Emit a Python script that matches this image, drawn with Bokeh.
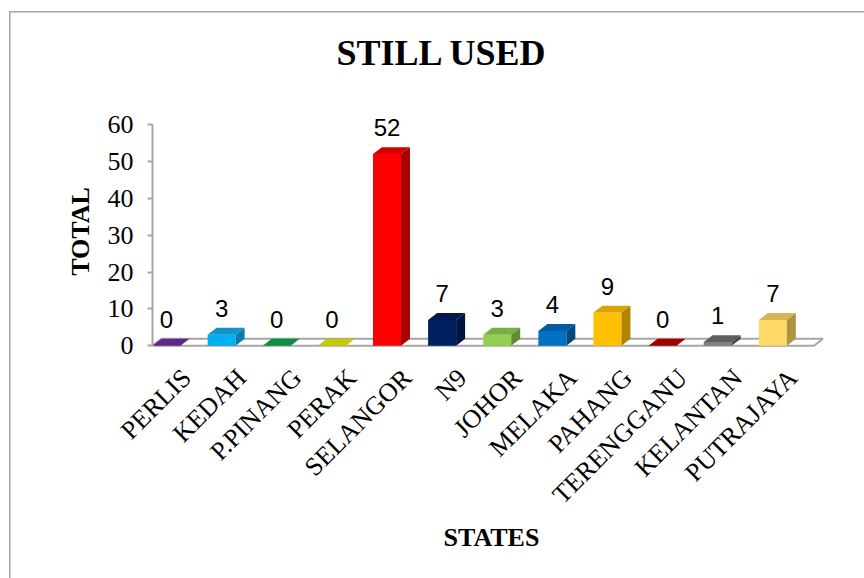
from bokeh.plotting import figure
from bokeh.models import ColumnDataSource, FixedTicker, LabelSet, Range1d
from bokeh.core.properties import value
from bokeh.embed import file_html
from bokeh.resources import INLINE

# Number of units still in use, per state
states = ["PERLIS", "KEDAH", "P.PINANG", "PERAK", "SELANGOR", "N9", "JOHOR",
          "MELAKA", "PAHANG", "TERENGGANU", "KELANTAN", "PUTRAJAYA"]
counts = [0, 3, 0, 0, 52, 7, 3, 4, 9, 0, 1, 7]
y_ticks = [0, 10, 20, 30, 40, 50, 60]

front_colors = ["#7030A0", "#00B0F0", "#00B050", "#FFFF00", "#FF0000", "#002060",
                "#92D050", "#0070C0", "#FFC000", "#C00000", "#7F7F7F", "#FFD966"]
top_colors = ["#5F2888", "#0E95CC", "#0A8F44", "#C8C800", "#D40000", "#001A50",
              "#78AE42", "#005CA0", "#D9A300", "#A00000", "#5E5E5E", "#D6B658"]
side_colors = ["#4C2070", "#0A7CAA", "#087538", "#A6A600", "#A80000", "#001440",
               "#5F8C34", "#004A80", "#B08400", "#800000", "#474747", "#AD9446"]

# 3D geometry in data units
bar_w = 0.508         # front face width
off = 0.62            # front-left corner sits this far left of the tick
dx, dy = 0.163, 1.88  # depth offset of the back faces
n = len(states)

p = figure(width=864, height=578, output_backend="svg", toolbar_location=None,
           x_range=Range1d(-off, n - off + 0.3), y_range=Range1d(-4, 66),
           min_border_left=152, min_border_right=34, min_border_top=100,
           min_border_bottom=218, title="STILL USED")
p.outline_line_color = None
p.grid.grid_line_color = None
p.background_fill_color = None
p.border_fill_color = None

# thin frame around the chart area
p.styles = {
    "background-color": "white",
    "background-image": "linear-gradient(#A6A6A6, #A6A6A6), linear-gradient(#A6A6A6, #A6A6A6)",
    "background-size": "1.5px 100%, 100% 1.5px",
    "background-position": "9px 11px, 9px 11px",
    "background-repeat": "no-repeat",
}

p.title.text_font = "Liberation Serif"
p.title.text_font_size = "36px"
p.title.text_font_style = "bold"
p.title.text_color = "black"
p.title.align = "left"
p.title.offset = 184
p.title.standoff = 60

# Floor slab
p.patch([-off, n - off, n - off + dx, -off + dx], [0, 0, dy, dy],
        fill_color="white", line_color="#A6A6A6", line_width=2)

# Bars: front, top and side faces
fx, fy, tx, ty, sx, sy = [], [], [], [], [], []
for i, v in enumerate(counts):
    x0 = i - off
    x1 = x0 + bar_w
    fx.append([x0, x1, x1, x0]); fy.append([0, 0, v, v])
    tx.append([x0, x1, x1 + dx, x0 + dx]); ty.append([v, v, v + dy, v + dy])
    sx.append([x1, x1 + dx, x1 + dx, x1]); sy.append([0, dy, v + dy, v])

p.patches(fx, fy, fill_color=front_colors, line_color=None)
p.patches(tx, ty, fill_color=top_colors, line_color=None)
p.patches(sx, sy, fill_color=side_colors, line_color=None)

# Value labels
lab_src = ColumnDataSource(dict(x=[i - off + bar_w / 2 for i in range(n)],
                                y=counts, text=[str(c) for c in counts]))
p.add_layout(LabelSet(x="x", y="y", text="text", source=lab_src, y_offset=18,
                      text_align="center", text_baseline="alphabetic",
                      text_font=value("Liberation Sans"), text_font_size=value("24px"),
                      text_color="black"))

# Y axis
yax = p.yaxis[0]
yax.ticker = FixedTicker(ticks=y_ticks)
yax.bounds = (0, 60)
yax.axis_line_color = "#A6A6A6"
yax.axis_line_width = 2
yax.major_tick_line_color = "#A6A6A6"
yax.major_tick_line_width = 2
yax.major_tick_out = 5
yax.major_tick_in = 0
yax.minor_tick_line_color = None
yax.major_label_text_font = "Liberation Serif"
yax.major_label_text_font_size = "26px"
yax.major_label_text_color = "black"
yax.major_label_standoff = 14
yax.axis_label = "TOTAL"
yax.axis_label_text_font = "Liberation Serif"
yax.axis_label_text_font_size = "26px"
yax.axis_label_text_font_style = "bold"
yax.axis_label_text_color = "black"
yax.axis_label_standoff = 10

# X axis (state names)
xax = p.xaxis[0]
xax.ticker = FixedTicker(ticks=list(range(n)))
xax.major_label_overrides = {i: s for i, s in enumerate(states)}
xax.axis_line_color = None
xax.major_tick_line_color = None
xax.minor_tick_line_color = None
xax.major_label_orientation = 0.785
xax.major_label_text_font = "Liberation Serif"
xax.major_label_text_font_size = "26px"
xax.major_label_text_color = "black"
xax.major_label_standoff = 7
xax.axis_label = "STATES"
xax.axis_label_text_font = "Liberation Serif"
xax.axis_label_text_font_size = "26px"
xax.axis_label_text_font_style = "bold"
xax.axis_label_text_color = "black"
xax.axis_label_standoff = 0

open("out.html", "w").write(file_html(p, INLINE))
